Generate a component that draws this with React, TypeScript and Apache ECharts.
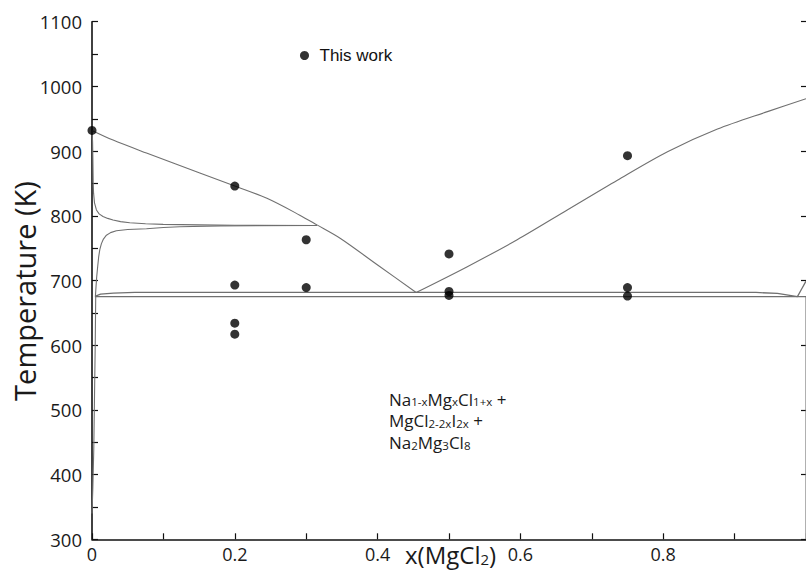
import React, { useEffect, useRef } from "react";
import * as echarts from "echarts";

// Phase boundaries of the NaCl–MgCl2 section, [x(MgCl2), T (K)]
const liquidusNaCl: number[][] = [
  [0, 932], [0.0295, 917], [0.0763, 897], [0.151, 866], [0.2, 846], [0.245, 827],
  [0.291, 801], [0.315, 786], [0.348, 765], [0.4, 724], [0.454, 681.5],
];
const liquidusMgCl2: number[][] = [
  [0.454, 681.5], [0.525, 721], [0.5955, 763], [0.6656, 809], [0.7358, 855],
  [0.806, 899], [0.876, 934], [0.946, 961], [1.0, 981],
];
const solidusUpper: number[][] = [
  [0, 932], [0.0008, 915], [0.0012, 890], [0.0017, 850], [0.0022, 835], [0.0035, 820],
  [0.0062, 809], [0.01, 803], [0.0154, 799], [0.022, 796], [0.0295, 793.5], [0.04, 791],
  [0.0529, 789.3], [0.075, 787.8], [0.0996, 786.8], [0.151, 786], [0.2, 785.3], [0.315, 785],
];
const solidusLower: number[][] = [
  [0.0048, 676], [0.0056, 690], [0.0066, 706], [0.008, 722], [0.0094, 737], [0.011, 748],
  [0.0132, 757], [0.016, 764], [0.0202, 770], [0.026, 774], [0.0342, 777], [0.05, 778.8],
  [0.0763, 780], [0.1, 781.8], [0.123, 783], [0.18, 784.5], [0.315, 785],
];
const eutecticUpper: number[][] = [
  [0.0048, 676], [0.012, 679], [0.03, 680.5], [0.06, 681.5], [0.5, 681.5], [0.93, 681.5],
  [0.96, 680], [0.988, 675], [0.9935, 686], [1.0, 699],
];
const eutecticLower: number[][] = [[0.004, 675], [1.0, 675]];
const solvusNaCl: number[][] = [
  [0.0052, 675], [0.0045, 600], [0.0035, 520], [0.0025, 440], [0.0012, 380], [0, 340],
];
const edgeMgCl2: number[][] = [[1.0, 675], [1.0, 300]];

// Measured points
const thisWork: number[][] = [
  [0, 932], [0.2, 846], [0.2, 693], [0.2, 634], [0.2, 617],
  [0.3, 763], [0.3, 689], [0.5, 741], [0.5, 683], [0.5, 677],
  [0.75, 893], [0.75, 689], [0.75, 676],
];

const xTickLabels: Record<number, string> = { 0: "0", 2: "0.2", 4: "0.4", 6: "0.6", 8: "0.8" };
const yTickLabels: string[] = ["300", "400", "500", "600", "700", "800", "900", "1000", "1100"];

const curveColor = "#707070";
const labelFont = "'Open Sans', sans-serif";

export default function App() {
  const ref = useRef<HTMLDivElement>(null);

  useEffect(() => {
    if (!ref.current) return;
    const chart = echarts.init(ref.current, undefined, { renderer: "svg" });

    const curve = (data: number[][], width = 1.1, smooth: number | boolean = false) => ({
      type: "line",
      data,
      showSymbol: false,
      symbol: "none",
      silent: true,
      clip: false,
      smooth,
      lineStyle: { color: curveColor, width },
      z: 2,
    });

    chart.setOption({
      animation: false,
      backgroundColor: "#ffffff",
      grid: {
        left: 92,
        top: 21.7,
        width: 714,
        height: 517.6,
        containLabel: false,
        outerBoundsMode: "none",
      },
      legend: {
        data: ["This work"],
        icon: "circle",
        itemWidth: 20,
        itemHeight: 9,
        left: 295,
        top: 42,
        textStyle: { fontFamily: "'Liberation Sans', Arial, sans-serif", fontSize: 17, color: "#111" },
      },
      xAxis: {
        type: "value",
        min: 0,
        max: 1,
        interval: 0.1,
        axisLine: { show: true, lineStyle: { color: "#111", width: 1.6 } },
        axisTick: { show: true, inside: true, length: 6, lineStyle: { color: "#111", width: 1.2 } },
        splitLine: { show: false },
        axisLabel: {
          margin: 6,
          fontFamily: labelFont,
          fontSize: 18,
          color: "#1a1a1a",
          formatter: (v: number) => xTickLabels[Math.round(v * 10)] ?? "",
        },
      },
      yAxis: [
        {
          type: "value",
          position: "left",
          min: 300,
          max: 1100,
          interval: 100,
          axisLine: { show: true, lineStyle: { color: "#111", width: 1.6 } },
          axisTick: { show: true, inside: true, length: 6, lineStyle: { color: "#111", width: 1.2 } },
          minorTick: { show: true, splitNumber: 2, length: 6, lineStyle: { color: "#111", width: 1.2 } },
          splitLine: { show: false },
          axisLabel: {
            margin: 10,
            fontFamily: labelFont,
            fontSize: 18.5,
            color: "#1a1a1a",
            formatter: (v: number) => yTickLabels[Math.round((v - 300) / 100)] ?? "",
          },
        },
        {
          type: "value",
          position: "right",
          min: 300,
          max: 1100,
          interval: 100,
          axisLine: { show: true, lineStyle: { color: "#333", width: 1 } },
          axisTick: { show: true, inside: true, length: 5, lineStyle: { color: "#111", width: 1.2 } },
          splitLine: { show: false },
          axisLabel: { show: false },
        },
      ],
      graphic: [
        {
          type: "text",
          x: 24,
          y: 291,
          rotation: Math.PI / 2,
          style: {
            text: "Temperature (K)",
            fontFamily: labelFont,
            fontSize: 29,
            fill: "#1a1a1a",
            align: "center",
            verticalAlign: "middle",
          },
        },
        {
          type: "text",
          x: 405,
          y: 536,
          style: {
            text: "{a|x(MgCl}{s|2}{a|)}",
            fill: "#1a1a1a",
            rich: {
              a: { fontFamily: labelFont, fontSize: 24, lineHeight: 30, verticalAlign: "bottom", fill: "#1a1a1a" },
              s: { fontFamily: labelFont, fontSize: 15, lineHeight: 15, verticalAlign: "bottom", fill: "#1a1a1a" },
            },
          },
        },
        {
          type: "text",
          x: 389,
          y: 386,
          style: {
            text: [
              "{a|Na}{s|1-x}{a|Mg}{s|x}{a|Cl}{s|1+x}{a| +}",
              "{a|MgCl}{s|2-2x}{a|I}{s|2x}{a| +}",
              "{a|Na}{s|2}{a|Mg}{s|3}{a|Cl}{s|8}",
            ].join("\n"),
            fill: "#1a1a1a",
            rich: {
              a: { fontFamily: labelFont, fontSize: 17, lineHeight: 21.7, verticalAlign: "bottom", fill: "#1a1a1a" },
              s: { fontFamily: labelFont, fontSize: 11.5, lineHeight: 11, verticalAlign: "bottom", fill: "#1a1a1a" },
            },
          },
        },
      ],
      series: [
        curve(liquidusNaCl, 1.1, 0.3),
        curve(liquidusMgCl2, 1.1, 0.3),
        curve(solidusUpper, 1.1),
        curve(solidusLower, 1.1),
        curve(eutecticUpper, 1.3),
        curve(eutecticLower, 1.3),
        curve(solvusNaCl),
        curve(edgeMgCl2),
        {
          name: "This work",
          type: "scatter",
          data: thisWork,
          symbol: "circle",
          symbolSize: 9,
          clip: false,
          itemStyle: { color: "#000" },
          z: 5,
        },
      ],
    });

    return () => chart.dispose();
  }, []);

  return (
    <div
      ref={ref}
      style={{ position: "fixed", left: 0, top: 0, width: 806, height: 577, background: "#fff" }}
    />
  );
}
